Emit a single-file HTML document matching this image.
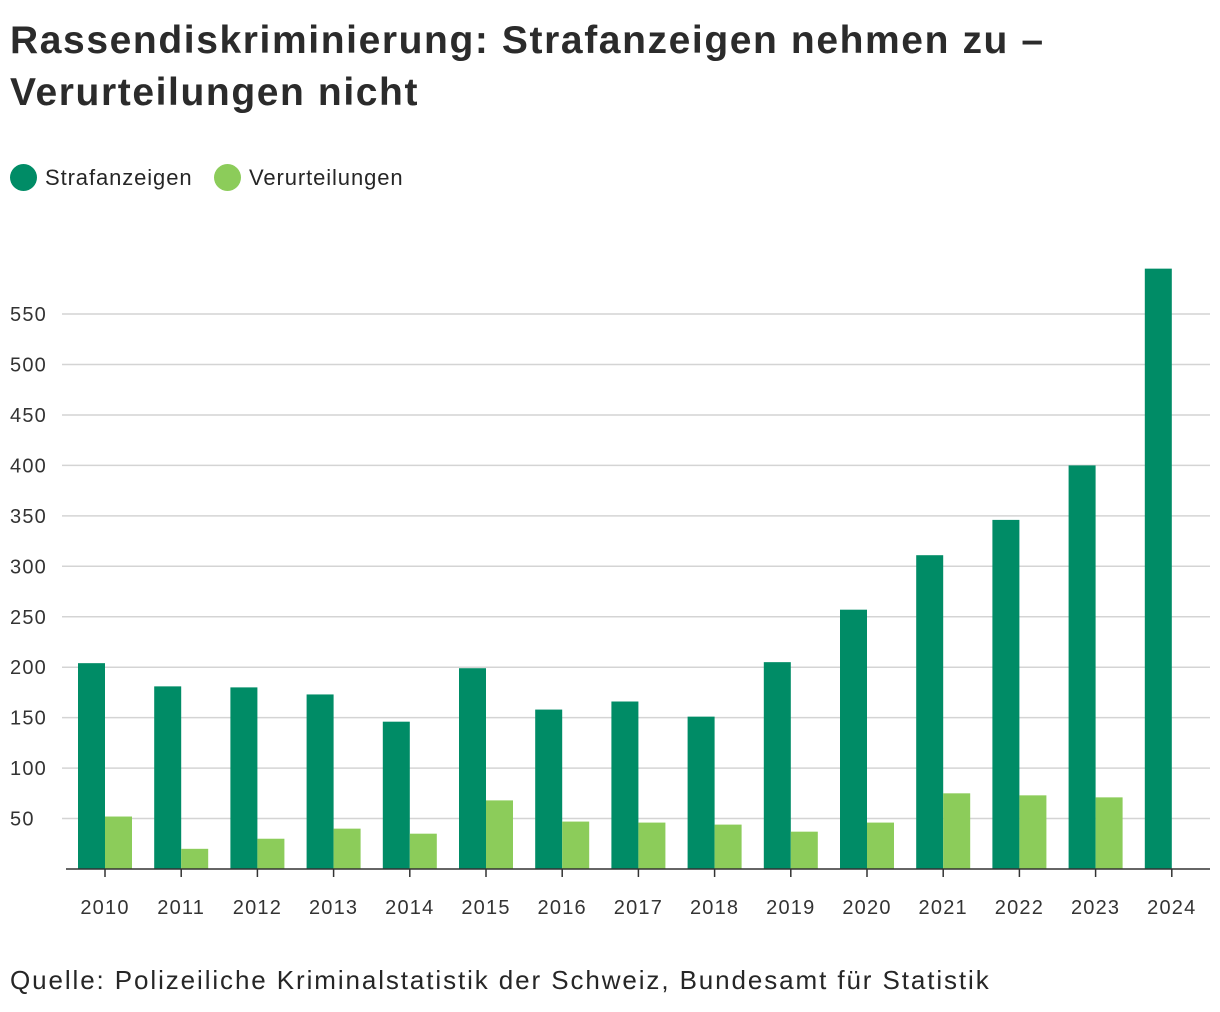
<!DOCTYPE html>
<html><head><meta charset="utf-8"><style>
body{margin:0;width:1220px;height:1012px;background:#fff;font-family:"Liberation Sans",sans-serif;color:#262626;overflow:hidden;position:relative}
h1{position:absolute;left:10px;top:15px;margin:0;font-size:39px;letter-spacing:1.6px;line-height:52px;font-weight:bold;color:#2b2b2b}
.leg{position:absolute;top:164px;font-size:22px;letter-spacing:0.9px;display:flex;align-items:center}
.dot{width:27px;height:27px;border-radius:50%;margin-right:8px}
.src{position:absolute;left:10px;top:965px;font-size:26px;letter-spacing:1.9px}
</style></head><body>
<h1>Rassendiskriminierung: Strafanzeigen nehmen zu –<br>Verurteilungen nicht</h1>
<div class="leg" style="left:10px"><div class="dot" style="background:#008c66"></div>Strafanzeigen</div>
<div class="leg" style="left:214px"><div class="dot" style="background:#8ccc5a"></div>Verurteilungen</div>
<svg id="c" width="1220" height="1012" style="position:absolute;left:0;top:0"></svg>
<div class="src">Quelle: Polizeiliche Kriminalstatistik der Schweiz, Bundesamt für Statistik</div>
<script>
const years=["2010","2011","2012","2013","2014","2015","2016","2017","2018","2019","2020","2021","2022","2023","2024"];
const anzeigen=[204,181,180,173,146,199,158,166,151,205,257,311,346,400,595];
const urteile=[52,20,30,40,35,68,47,46,44,37,46,75,73,71,null];
const yTicks=[50,100,150,200,250,300,350,400,450,500,550];
const svg=document.getElementById('c');const NS="http://www.w3.org/2000/svg";
const y=v=>869-v*1.009;const x=i=>78+i*76.2;const bw=27;
function mk(t,a){const e=document.createElementNS(NS,t);for(const k in a)e.setAttribute(k,a[k]);svg.appendChild(e);return e;}
yTicks.forEach(t=>{
const l=mk('line',{x1:62,x2:1210,y1:y(t),y2:y(t),stroke:'#d4d4d4','stroke-width':1.5});


const tx=mk('text',{x:10,y:y(t)+7,'font-size':20,'letter-spacing':1.2,fill:'#333'});tx.textContent=t;


});
years.forEach((yr,i)=>{
const b=mk('rect',{x:x(i),y:y(anzeigen[i]),width:bw,height:869-y(anzeigen[i]),fill:'#008c66'});


if(urteile[i]!=null){const c=mk('rect',{x:x(i)+bw,y:y(urteile[i]),width:bw,height:869-y(urteile[i]),fill:'#8ccc5a'});

}
const tk=mk('line',{x1:x(i)+bw,x2:x(i)+bw,y1:869,y2:877,stroke:'#333','stroke-width':1.5});


const t=mk('text',{x:x(i)+bw,y:914,'font-size':20,'letter-spacing':1.2,fill:'#333','text-anchor':'middle'});t.textContent=yr;


});
const ax=mk('line',{x1:66,x2:1210,y1:869,y2:869,stroke:'#333','stroke-width':1.5});


</script>
</body></html>
